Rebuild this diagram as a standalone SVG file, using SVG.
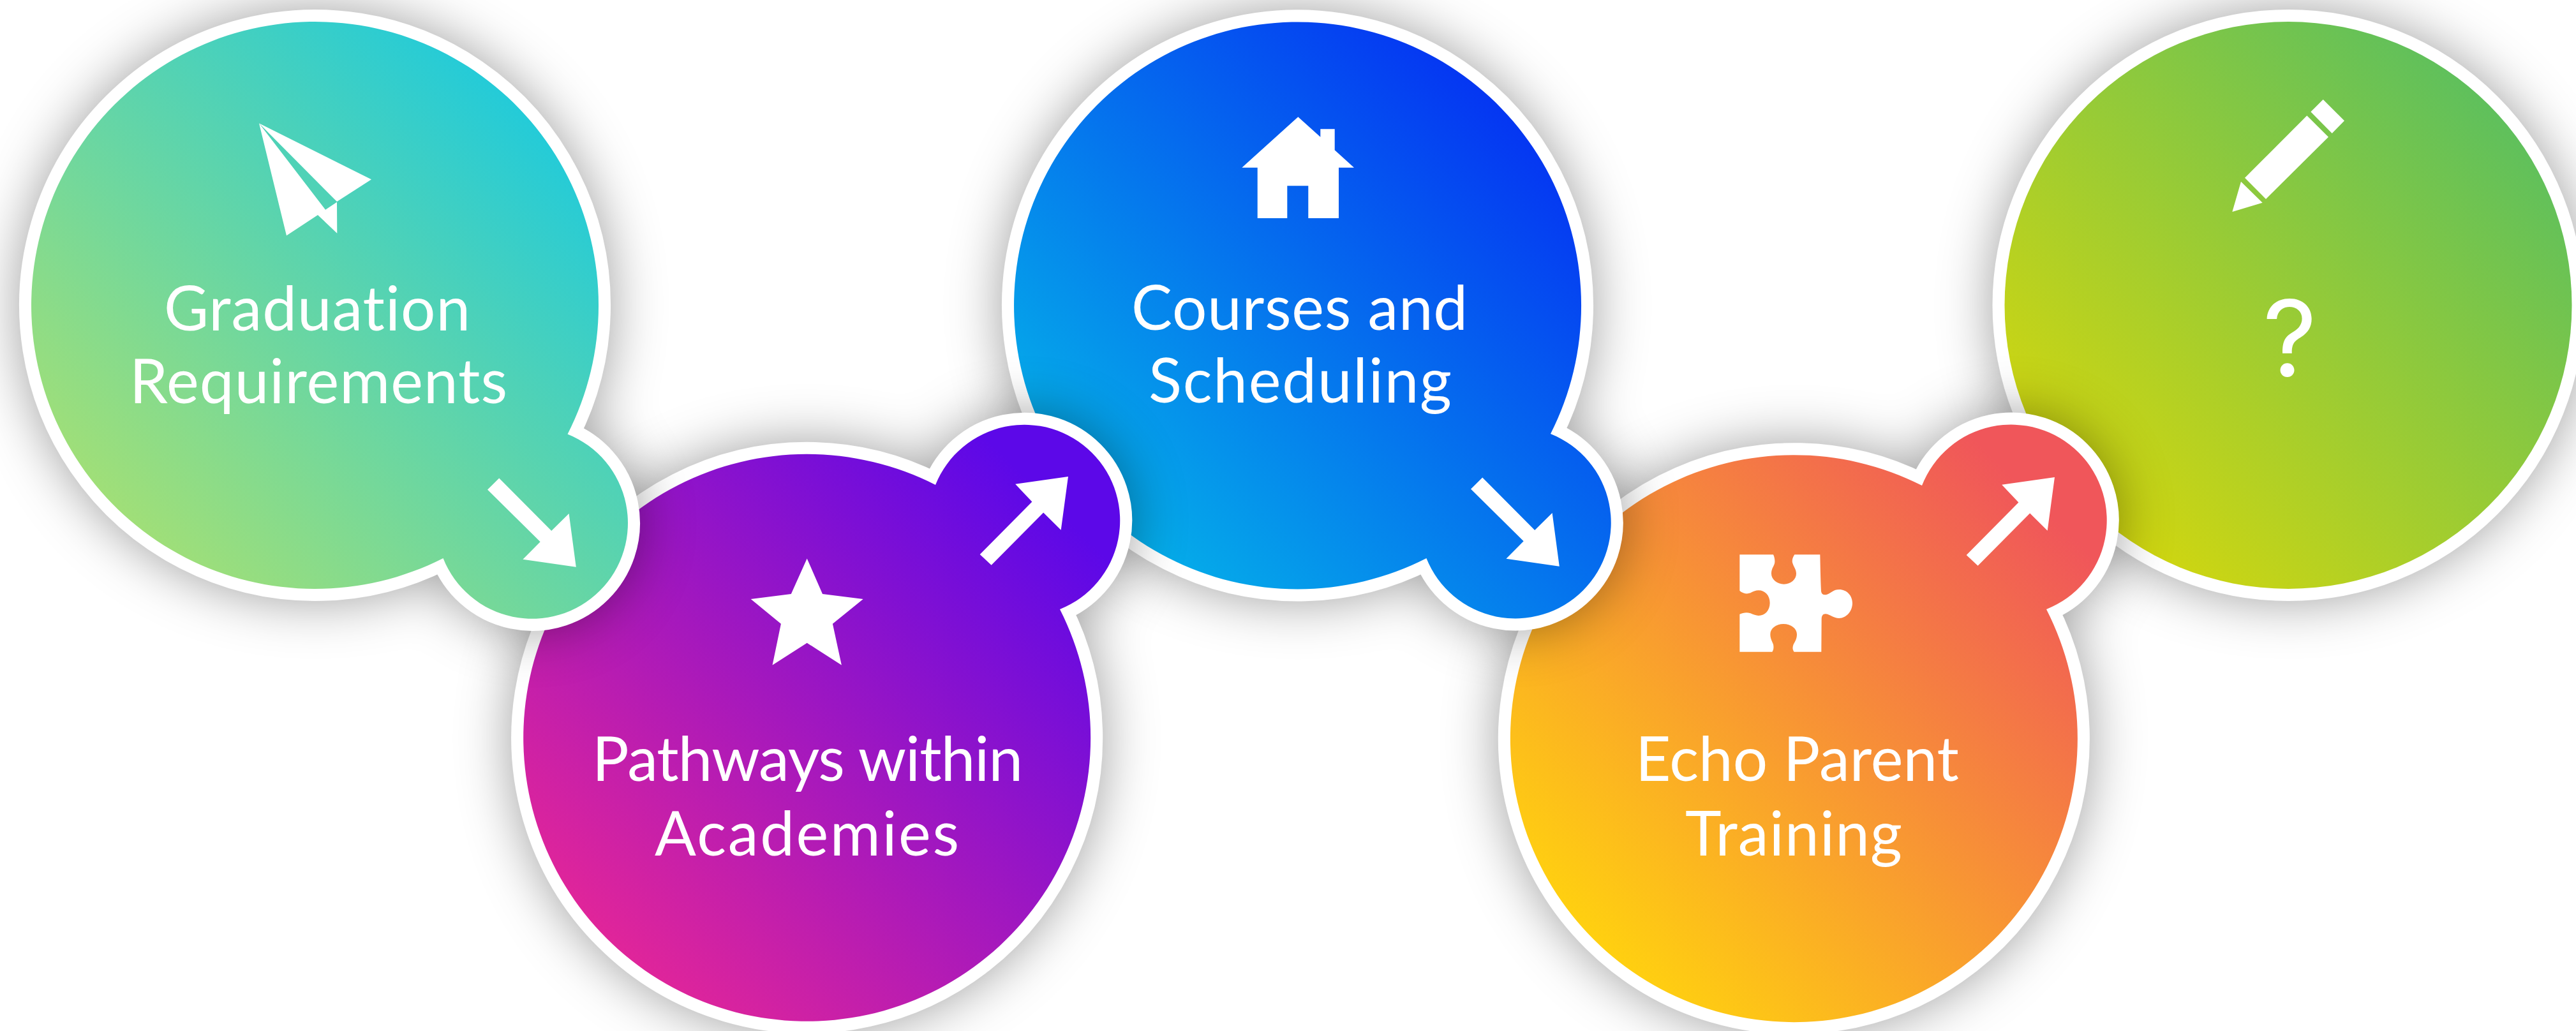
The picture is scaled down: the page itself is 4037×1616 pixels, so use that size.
<svg xmlns="http://www.w3.org/2000/svg" width="4037" height="1616" viewBox="0 0 4037 1616">
<style>
.bubble{stroke:#fff;stroke-width:38;paint-order:stroke;stroke-linejoin:miter;stroke-miterlimit:1}
.shadow{filter:url(#sh)}
.icon,.arrow{fill:#fff}
text{fill:#fff;font-family:"Lato","Liberation Sans",sans-serif;font-size:96px;font-weight:400;font-variant-ligatures:none}
.q{font-family:"Inter","Liberation Sans",sans-serif;font-size:166px}
</style>
<defs>
<filter id="sh" filterUnits="userSpaceOnUse" x="-200" y="-200" width="4437" height="2016" color-interpolation-filters="sRGB">
<feDropShadow dx="0" dy="0" stdDeviation="42" flood-color="#000" flood-opacity="0.38"/>
</filter>
<linearGradient id="g1" gradientUnits="userSpaceOnUse" x1="179" y1="792" x2="807" y2="164"><stop offset="0" stop-color="#a0df78"/><stop offset="1" stop-color="#24cbd8"/></linearGradient>
<linearGradient id="g2" gradientUnits="userSpaceOnUse" x1="950" y1="1470" x2="1640" y2="780"><stop offset="0" stop-color="#e0259a"/><stop offset="1" stop-color="#5c08e8"/></linearGradient>
<linearGradient id="g3" gradientUnits="userSpaceOnUse" x1="1720" y1="792" x2="2348" y2="164"><stop offset="0" stop-color="#05ade9"/><stop offset="1" stop-color="#0536f2"/></linearGradient>
<linearGradient id="g4" gradientUnits="userSpaceOnUse" x1="2496" y1="1470" x2="3186" y2="780"><stop offset="0" stop-color="#ffd010"/><stop offset="1" stop-color="#f0565a"/></linearGradient>
<linearGradient id="g5" gradientUnits="userSpaceOnUse" x1="3272" y1="792" x2="3900" y2="164"><stop offset="0" stop-color="#d0d610"/><stop offset="1" stop-color="#5fc05c"/></linearGradient>
<path id="down" d="M782.2 749.5L764 767.6L846.7 849.3L819.4 876.8L902.8 888.8L891.6 805L864.2 831.9Z"/>
<path id="up" d="M1674 747L1591.2 758.8L1617.4 786.6L1535.7 869L1553.6 885.8L1635.2 803.5L1662.7 830.7Z"/>
</defs>

<g id="node-question">
<circle class="bubble shadow" cx="3586" cy="478.5" r="444.5" fill="url(#g5)"/>
<g class="icon" transform="translate(3460 130) scale(.33333)">
<path d="M115 606L156 464L257 563Z"/>
<path d="M466 154L567 254L273 546L174 446Z"/>
<path d="M542 78L642 178L584 237L484 136Z"/>
</g>
<text class="q" x="3546" y="590">?</text>
</g>

<g id="node-echo">
<path class="bubble shadow" fill="url(#g4)" d="M3012 761A444.500 444.500 0 1 0 3207 955A150 150 0 1 0 3012 761Z"/>
<path class="icon" transform="translate(2680 840) scale(.33333)" d="M139 88H297C303 100 306 118 303 130C298 146 288 155 288 178C288 205 315 227 347 227C380 227 405 205 405 178C405 155 392 145 387 125C384 112 390 98 397 88H517C518 130 519 200 522 260C524 275 535 280 550 275C570 268 580 252 607 252C642 252 669 280 669 316C669 355 640 387 607 387C580 387 565 370 545 367C530 365 525 375 524 390L523 545H395C388 537 386 525 392 510C400 495 408 485 408 462C408 435 380 414 345 414C310 414 283 435 283 462C283 485 292 495 297 510C300 525 298 537 292 545H139V368C155 362 170 358 190 364C205 370 215 375 228 375C258 375 281 350 281 315C281 280 258 256 228 256C215 256 200 262 190 268C175 274 155 272 139 258Z"/>
<text x="2563" y="1224" textLength="507">Echo Parent</text>
<text x="2641" y="1341" textLength="340">Training</text>
</g>

<g id="node-courses">
<path class="bubble shadow" fill="url(#g3)" d="M2430 680A444.500 444.500 0 1 0 2235.400 875A150 150 0 1 0 2430 680Z"/>
<path class="icon" d="M2034.300 183.300L2069.300 214.700V202.300H2091.700V235.300L2122 262.700H2098V342H2050.300V291.300H2017.300V342H1970.700V262.700H1946.300Z"/>
<text x="1773" y="517" textLength="527">Courses and</text>
<text x="1800" y="631" textLength="475">Scheduling</text>
</g>

<g id="node-pathways">
<path class="bubble shadow" fill="url(#g2)" d="M1466 760A444.500 444.500 0 1 0 1661 955A150 150 0 1 0 1466 760Z"/>
<path class="icon" d="M1264.700 875.400L1289 931L1352.700 939L1304.900 977.800L1318.900 1042.600L1264.700 1007.700L1210.500 1042.600L1223.900 977.800L1176.700 939L1239.800 931Z"/>
<text x="928" y="1224" textLength="675">Pathways within</text>
<text x="1026" y="1341" textLength="477">Academies</text>
</g>

<g id="node-graduation">
<path class="bubble shadow" fill="url(#g1)" d="M889.500 680.500A444.500 444.500 0 1 0 694.500 875A150 150 0 1 0 889.500 680.500Z"/>
<g class="icon">
<path d="M406 193.300L582 281.300L528 316Z"/>
<path d="M406 193.300L510 328.700L528 316.700L528.300 365.700L498 337L449 369.300Z"/>
</g>
<text x="257" y="518" textLength="480">Graduation</text>
<text x="203" y="631.500" textLength="592">Requirements</text>
</g>

<g id="connectors" class="arrow">
<use href="#down"/>
<use href="#up"/>
<use href="#down" transform="translate(1541 -1)"/>
<use href="#up" transform="translate(1546 1)"/>
</g>
</svg>
